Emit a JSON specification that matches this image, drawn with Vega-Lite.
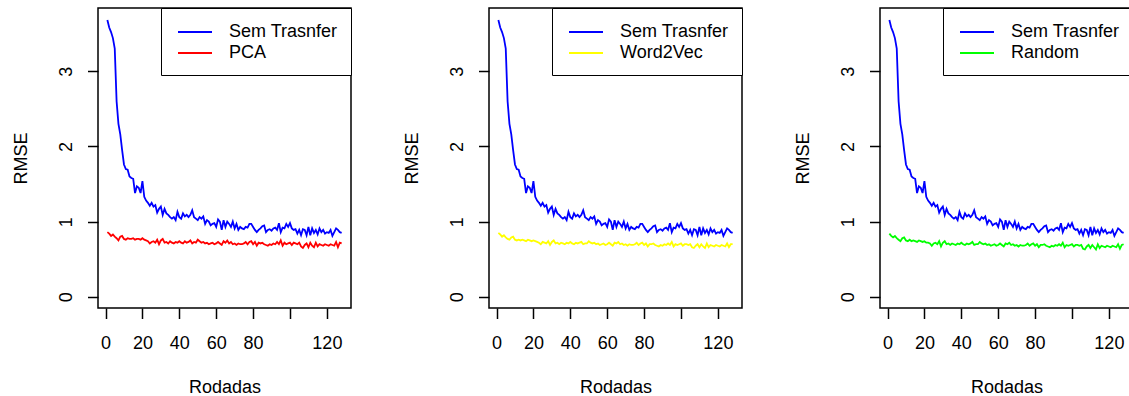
{
  "$schema": "https://vega.github.io/schema/vega-lite/v6.json",
  "autosize": {"type": "none"},
  "padding": {"left": 98, "top": 8, "right": 1031, "bottom": 388},
  "background": "white",
  "bounds": "flush",
  "spacing": 138,
  "config": {
    "font": "Liberation Sans",
    "view": {"stroke": "black", "strokeWidth": 1.5, "fill": "white"},
    "axis": {"domain": false, "grid": false, "tickColor": "black", "tickWidth": 1.5, "tickSize": 10.5, "labelColor": "black", "labelFontSize": 18, "labelFont": "Liberation Sans", "titleFont": "Liberation Sans", "titleFontSize": 18, "titleFontWeight": "normal", "titleColor": "black", "labelFlush": false, "labelOverlap": false},
    "axisX": {"labelBaseline": "alphabetic", "labelPadding": 29.5, "titleX": 126.5, "titleY": 84, "titleBaseline": "alphabetic", "titleAlign": "center", "titleAnchor": null},
    "axisY": {"labelAngle": 270, "labelAlign": "center", "labelBaseline": "alphabetic", "labelPadding": 16.5, "titleAngle": 270, "titleX": -71.5, "titleY": 150, "titleAlign": "center", "titleBaseline": "alphabetic"},
    "legend": {"orient": "top-right", "offset": 0, "padding": 13, "strokeColor": "black", "fillColor": "white", "symbolType": "M-1.7,0H1.7", "symbolSize": 400, "symbolStrokeWidth": 1.8, "symbolOffset": 10, "labelFontSize": 18, "labelFont": "Liberation Sans", "labelColor": "black", "labelOffset": 23, "rowPadding": 1}
  },
  "datasets": {
    "d": [
      {"r":1,"Sem Trasnfer":3.68,"PCA":0.86,"Word2Vec":0.85,"Random":0.84},
      {"r":2,"Sem Trasnfer":3.58,"PCA":0.84,"Word2Vec":0.83,"Random":0.81},
      {"r":3,"Sem Trasnfer":3.52,"PCA":0.81,"Word2Vec":0.80,"Random":0.79},
      {"r":4,"Sem Trasnfer":3.44,"PCA":0.83,"Word2Vec":0.82,"Random":0.81},
      {"r":5,"Sem Trasnfer":3.30,"PCA":0.80,"Word2Vec":0.79,"Random":0.78},
      {"r":6,"Sem Trasnfer":2.60,"PCA":0.78,"Word2Vec":0.77,"Random":0.76},
      {"r":7,"Sem Trasnfer":2.30,"PCA":0.75,"Word2Vec":0.76,"Random":0.74},
      {"r":8,"Sem Trasnfer":2.16,"PCA":0.80,"Word2Vec":0.79,"Random":0.78},
      {"r":9,"Sem Trasnfer":1.95,"PCA":0.81,"Word2Vec":0.80,"Random":0.79},
      {"r":10,"Sem Trasnfer":1.76,"PCA":0.77,"Word2Vec":0.76,"Random":0.75},
      {"r":11,"Sem Trasnfer":1.70,"PCA":0.76,"Word2Vec":0.75,"Random":0.74},
      {"r":12,"Sem Trasnfer":1.69,"PCA":0.78,"Word2Vec":0.76,"Random":0.76},
      {"r":13,"Sem Trasnfer":1.60,"PCA":0.77,"Word2Vec":0.75,"Random":0.74},
      {"r":14,"Sem Trasnfer":1.58,"PCA":0.77,"Word2Vec":0.76,"Random":0.75},
      {"r":15,"Sem Trasnfer":1.57,"PCA":0.78,"Word2Vec":0.75,"Random":0.74},
      {"r":16,"Sem Trasnfer":1.38,"PCA":0.76,"Word2Vec":0.74,"Random":0.73},
      {"r":17,"Sem Trasnfer":1.47,"PCA":0.77,"Word2Vec":0.76,"Random":0.75},
      {"r":18,"Sem Trasnfer":1.45,"PCA":0.77,"Word2Vec":0.75,"Random":0.74},
      {"r":19,"Sem Trasnfer":1.38,"PCA":0.76,"Word2Vec":0.74,"Random":0.73},
      {"r":20,"Sem Trasnfer":1.54,"PCA":0.78,"Word2Vec":0.75,"Random":0.74},
      {"r":21,"Sem Trasnfer":1.33,"PCA":0.76,"Word2Vec":0.74,"Random":0.72},
      {"r":22,"Sem Trasnfer":1.28,"PCA":0.75,"Word2Vec":0.73,"Random":0.72},
      {"r":23,"Sem Trasnfer":1.25,"PCA":0.74,"Word2Vec":0.72,"Random":0.71},
      {"r":24,"Sem Trasnfer":1.21,"PCA":0.71,"Word2Vec":0.70,"Random":0.68},
      {"r":25,"Sem Trasnfer":1.25,"PCA":0.73,"Word2Vec":0.73,"Random":0.71},
      {"r":26,"Sem Trasnfer":1.20,"PCA":0.74,"Word2Vec":0.72,"Random":0.72},
      {"r":27,"Sem Trasnfer":1.22,"PCA":0.72,"Word2Vec":0.71,"Random":0.70},
      {"r":28,"Sem Trasnfer":1.12,"PCA":0.76,"Word2Vec":0.74,"Random":0.74},
      {"r":29,"Sem Trasnfer":1.17,"PCA":0.70,"Word2Vec":0.69,"Random":0.67},
      {"r":30,"Sem Trasnfer":1.20,"PCA":0.75,"Word2Vec":0.73,"Random":0.72},
      {"r":31,"Sem Trasnfer":1.09,"PCA":0.77,"Word2Vec":0.75,"Random":0.74},
      {"r":32,"Sem Trasnfer":1.17,"PCA":0.72,"Word2Vec":0.71,"Random":0.70},
      {"r":33,"Sem Trasnfer":1.11,"PCA":0.73,"Word2Vec":0.72,"Random":0.71},
      {"r":34,"Sem Trasnfer":1.09,"PCA":0.71,"Word2Vec":0.70,"Random":0.69},
      {"r":35,"Sem Trasnfer":1.06,"PCA":0.74,"Word2Vec":0.72,"Random":0.71},
      {"r":36,"Sem Trasnfer":1.04,"PCA":0.72,"Word2Vec":0.71,"Random":0.70},
      {"r":37,"Sem Trasnfer":1.06,"PCA":0.71,"Word2Vec":0.70,"Random":0.69},
      {"r":38,"Sem Trasnfer":1.02,"PCA":0.73,"Word2Vec":0.72,"Random":0.71},
      {"r":39,"Sem Trasnfer":1.13,"PCA":0.72,"Word2Vec":0.71,"Random":0.70},
      {"r":40,"Sem Trasnfer":1.06,"PCA":0.74,"Word2Vec":0.73,"Random":0.72},
      {"r":41,"Sem Trasnfer":1.04,"PCA":0.72,"Word2Vec":0.71,"Random":0.70},
      {"r":42,"Sem Trasnfer":1.11,"PCA":0.71,"Word2Vec":0.70,"Random":0.69},
      {"r":43,"Sem Trasnfer":1.07,"PCA":0.74,"Word2Vec":0.72,"Random":0.71},
      {"r":44,"Sem Trasnfer":1.09,"PCA":0.72,"Word2Vec":0.71,"Random":0.70},
      {"r":45,"Sem Trasnfer":1.06,"PCA":0.73,"Word2Vec":0.72,"Random":0.71},
      {"r":46,"Sem Trasnfer":1.09,"PCA":0.75,"Word2Vec":0.73,"Random":0.73},
      {"r":47,"Sem Trasnfer":1.15,"PCA":0.71,"Word2Vec":0.70,"Random":0.69},
      {"r":48,"Sem Trasnfer":1.06,"PCA":0.73,"Word2Vec":0.71,"Random":0.70},
      {"r":49,"Sem Trasnfer":1.04,"PCA":0.72,"Word2Vec":0.71,"Random":0.70},
      {"r":50,"Sem Trasnfer":1.02,"PCA":0.76,"Word2Vec":0.74,"Random":0.73},
      {"r":51,"Sem Trasnfer":1.06,"PCA":0.74,"Word2Vec":0.72,"Random":0.71},
      {"r":52,"Sem Trasnfer":1.04,"PCA":0.72,"Word2Vec":0.71,"Random":0.70},
      {"r":53,"Sem Trasnfer":1.07,"PCA":0.73,"Word2Vec":0.72,"Random":0.71},
      {"r":54,"Sem Trasnfer":0.97,"PCA":0.71,"Word2Vec":0.70,"Random":0.69},
      {"r":55,"Sem Trasnfer":1.02,"PCA":0.72,"Word2Vec":0.71,"Random":0.70},
      {"r":56,"Sem Trasnfer":1.00,"PCA":0.70,"Word2Vec":0.69,"Random":0.68},
      {"r":57,"Sem Trasnfer":0.95,"PCA":0.71,"Word2Vec":0.70,"Random":0.69},
      {"r":58,"Sem Trasnfer":0.97,"PCA":0.72,"Word2Vec":0.71,"Random":0.70},
      {"r":59,"Sem Trasnfer":0.98,"PCA":0.70,"Word2Vec":0.69,"Random":0.68},
      {"r":60,"Sem Trasnfer":0.93,"PCA":0.71,"Word2Vec":0.70,"Random":0.69},
      {"r":61,"Sem Trasnfer":1.03,"PCA":0.73,"Word2Vec":0.72,"Random":0.71},
      {"r":62,"Sem Trasnfer":1.00,"PCA":0.71,"Word2Vec":0.70,"Random":0.69},
      {"r":63,"Sem Trasnfer":0.89,"PCA":0.69,"Word2Vec":0.68,"Random":0.67},
      {"r":64,"Sem Trasnfer":1.02,"PCA":0.74,"Word2Vec":0.72,"Random":0.71},
      {"r":65,"Sem Trasnfer":0.93,"PCA":0.72,"Word2Vec":0.71,"Random":0.70},
      {"r":66,"Sem Trasnfer":1.00,"PCA":0.75,"Word2Vec":0.73,"Random":0.72},
      {"r":67,"Sem Trasnfer":0.97,"PCA":0.71,"Word2Vec":0.70,"Random":0.69},
      {"r":68,"Sem Trasnfer":0.93,"PCA":0.73,"Word2Vec":0.71,"Random":0.70},
      {"r":69,"Sem Trasnfer":1.00,"PCA":0.70,"Word2Vec":0.69,"Random":0.68},
      {"r":70,"Sem Trasnfer":0.91,"PCA":0.71,"Word2Vec":0.70,"Random":0.69},
      {"r":71,"Sem Trasnfer":0.97,"PCA":0.69,"Word2Vec":0.68,"Random":0.67},
      {"r":72,"Sem Trasnfer":0.89,"PCA":0.71,"Word2Vec":0.70,"Random":0.69},
      {"r":73,"Sem Trasnfer":0.93,"PCA":0.70,"Word2Vec":0.69,"Random":0.68},
      {"r":74,"Sem Trasnfer":0.91,"PCA":0.70,"Word2Vec":0.69,"Random":0.68},
      {"r":75,"Sem Trasnfer":0.90,"PCA":0.71,"Word2Vec":0.70,"Random":0.69},
      {"r":76,"Sem Trasnfer":0.93,"PCA":0.73,"Word2Vec":0.72,"Random":0.71},
      {"r":77,"Sem Trasnfer":0.92,"PCA":0.70,"Word2Vec":0.69,"Random":0.68},
      {"r":78,"Sem Trasnfer":0.97,"PCA":0.73,"Word2Vec":0.71,"Random":0.70},
      {"r":79,"Sem Trasnfer":0.97,"PCA":0.74,"Word2Vec":0.72,"Random":0.71},
      {"r":80,"Sem Trasnfer":0.93,"PCA":0.70,"Word2Vec":0.69,"Random":0.68},
      {"r":81,"Sem Trasnfer":0.89,"PCA":0.73,"Word2Vec":0.71,"Random":0.70},
      {"r":82,"Sem Trasnfer":0.86,"PCA":0.68,"Word2Vec":0.67,"Random":0.66},
      {"r":83,"Sem Trasnfer":0.89,"PCA":0.72,"Word2Vec":0.70,"Random":0.69},
      {"r":84,"Sem Trasnfer":0.91,"PCA":0.71,"Word2Vec":0.70,"Random":0.69},
      {"r":85,"Sem Trasnfer":0.94,"PCA":0.72,"Word2Vec":0.71,"Random":0.70},
      {"r":86,"Sem Trasnfer":0.95,"PCA":0.70,"Word2Vec":0.69,"Random":0.68},
      {"r":87,"Sem Trasnfer":0.86,"PCA":0.69,"Word2Vec":0.68,"Random":0.67},
      {"r":88,"Sem Trasnfer":0.89,"PCA":0.68,"Word2Vec":0.67,"Random":0.66},
      {"r":89,"Sem Trasnfer":0.90,"PCA":0.70,"Word2Vec":0.69,"Random":0.68},
      {"r":90,"Sem Trasnfer":0.88,"PCA":0.69,"Word2Vec":0.68,"Random":0.67},
      {"r":91,"Sem Trasnfer":0.91,"PCA":0.71,"Word2Vec":0.70,"Random":0.69},
      {"r":92,"Sem Trasnfer":0.92,"PCA":0.70,"Word2Vec":0.69,"Random":0.68},
      {"r":93,"Sem Trasnfer":0.89,"PCA":0.73,"Word2Vec":0.71,"Random":0.70},
      {"r":94,"Sem Trasnfer":0.98,"PCA":0.70,"Word2Vec":0.69,"Random":0.68},
      {"r":95,"Sem Trasnfer":0.86,"PCA":0.75,"Word2Vec":0.73,"Random":0.72},
      {"r":96,"Sem Trasnfer":0.92,"PCA":0.68,"Word2Vec":0.67,"Random":0.66},
      {"r":97,"Sem Trasnfer":0.91,"PCA":0.72,"Word2Vec":0.70,"Random":0.69},
      {"r":98,"Sem Trasnfer":0.97,"PCA":0.70,"Word2Vec":0.69,"Random":0.68},
      {"r":99,"Sem Trasnfer":0.93,"PCA":0.71,"Word2Vec":0.70,"Random":0.69},
      {"r":100,"Sem Trasnfer":0.98,"PCA":0.72,"Word2Vec":0.71,"Random":0.70},
      {"r":101,"Sem Trasnfer":0.91,"PCA":0.69,"Word2Vec":0.68,"Random":0.67},
      {"r":102,"Sem Trasnfer":0.89,"PCA":0.72,"Word2Vec":0.70,"Random":0.69},
      {"r":103,"Sem Trasnfer":0.90,"PCA":0.71,"Word2Vec":0.70,"Random":0.69},
      {"r":104,"Sem Trasnfer":0.84,"PCA":0.70,"Word2Vec":0.69,"Random":0.68},
      {"r":105,"Sem Trasnfer":0.89,"PCA":0.72,"Word2Vec":0.70,"Random":0.69},
      {"r":106,"Sem Trasnfer":0.82,"PCA":0.67,"Word2Vec":0.66,"Random":0.64},
      {"r":107,"Sem Trasnfer":0.90,"PCA":0.65,"Word2Vec":0.65,"Random":0.63},
      {"r":108,"Sem Trasnfer":0.89,"PCA":0.69,"Word2Vec":0.68,"Random":0.67},
      {"r":109,"Sem Trasnfer":0.82,"PCA":0.71,"Word2Vec":0.70,"Random":0.69},
      {"r":110,"Sem Trasnfer":0.93,"PCA":0.66,"Word2Vec":0.66,"Random":0.65},
      {"r":111,"Sem Trasnfer":0.82,"PCA":0.72,"Word2Vec":0.70,"Random":0.69},
      {"r":112,"Sem Trasnfer":0.91,"PCA":0.68,"Word2Vec":0.67,"Random":0.66},
      {"r":113,"Sem Trasnfer":0.85,"PCA":0.66,"Word2Vec":0.65,"Random":0.63},
      {"r":114,"Sem Trasnfer":0.89,"PCA":0.72,"Word2Vec":0.71,"Random":0.70},
      {"r":115,"Sem Trasnfer":0.83,"PCA":0.67,"Word2Vec":0.66,"Random":0.65},
      {"r":116,"Sem Trasnfer":0.91,"PCA":0.70,"Word2Vec":0.69,"Random":0.68},
      {"r":117,"Sem Trasnfer":0.86,"PCA":0.69,"Word2Vec":0.68,"Random":0.67},
      {"r":118,"Sem Trasnfer":0.89,"PCA":0.68,"Word2Vec":0.67,"Random":0.66},
      {"r":119,"Sem Trasnfer":0.84,"PCA":0.70,"Word2Vec":0.69,"Random":0.68},
      {"r":120,"Sem Trasnfer":0.86,"PCA":0.69,"Word2Vec":0.68,"Random":0.67},
      {"r":121,"Sem Trasnfer":0.85,"PCA":0.68,"Word2Vec":0.67,"Random":0.66},
      {"r":122,"Sem Trasnfer":0.89,"PCA":0.70,"Word2Vec":0.69,"Random":0.68},
      {"r":123,"Sem Trasnfer":0.81,"PCA":0.69,"Word2Vec":0.68,"Random":0.67},
      {"r":124,"Sem Trasnfer":0.86,"PCA":0.68,"Word2Vec":0.67,"Random":0.66},
      {"r":125,"Sem Trasnfer":0.91,"PCA":0.73,"Word2Vec":0.71,"Random":0.70},
      {"r":126,"Sem Trasnfer":0.89,"PCA":0.66,"Word2Vec":0.66,"Random":0.64},
      {"r":127,"Sem Trasnfer":0.86,"PCA":0.72,"Word2Vec":0.70,"Random":0.69},
      {"r":128,"Sem Trasnfer":0.85,"PCA":0.71,"Word2Vec":0.70,"Random":0.70}
    ]
  },
  "resolve": {"scale": {"color": "independent"}, "legend": {"color": "independent"}},
  "hconcat": [
    {
      "width": 253, "height": 300,
      "data": {"name": "d"},
      "transform": [{"fold": ["Sem Trasnfer", "PCA"], "as": ["serie", "rmse"]}],
      "mark": {"type": "line", "strokeWidth": 1.8},
      "encoding": {
        "x": {"field": "r", "type": "quantitative", "scale": {"domain": [-4.08, 133.08], "nice": false, "zero": false}, "axis": {"title": "Rodadas", "values": [0, 20, 40, 60, 80, 100, 120], "labelExpr": "datum.value == 100 ? '' : datum.label"}},
        "y": {"field": "rmse", "type": "quantitative", "scale": {"domain": [-0.148, 3.84], "nice": false, "zero": false}, "axis": {"title": "RMSE", "values": [0, 1, 2, 3]}},
        "color": {"field": "serie", "type": "nominal", "scale": {"domain": ["Sem Trasnfer", "PCA"], "range": ["#0000ff", "#ff0000"]}, "legend": {"title": null}}
      }
    },
    {
      "width": 253, "height": 300,
      "data": {"name": "d"},
      "transform": [{"fold": ["Sem Trasnfer", "Word2Vec"], "as": ["serie", "rmse"]}],
      "mark": {"type": "line", "strokeWidth": 1.8},
      "encoding": {
        "x": {"field": "r", "type": "quantitative", "scale": {"domain": [-4.08, 133.08], "nice": false, "zero": false}, "axis": {"title": "Rodadas", "values": [0, 20, 40, 60, 80, 100, 120], "labelExpr": "datum.value == 100 ? '' : datum.label"}},
        "y": {"field": "rmse", "type": "quantitative", "scale": {"domain": [-0.148, 3.84], "nice": false, "zero": false}, "axis": {"title": "RMSE", "values": [0, 1, 2, 3]}},
        "color": {"field": "serie", "type": "nominal", "scale": {"domain": ["Sem Trasnfer", "Word2Vec"], "range": ["#0000ff", "#ffff00"]}, "legend": {"title": null}}
      }
    },
    {
      "width": 253, "height": 300,
      "data": {"name": "d"},
      "transform": [{"fold": ["Sem Trasnfer", "Random"], "as": ["serie", "rmse"]}],
      "mark": {"type": "line", "strokeWidth": 1.8},
      "encoding": {
        "x": {"field": "r", "type": "quantitative", "scale": {"domain": [-4.08, 133.08], "nice": false, "zero": false}, "axis": {"title": "Rodadas", "values": [0, 20, 40, 60, 80, 100, 120], "labelExpr": "datum.value == 100 ? '' : datum.label"}},
        "y": {"field": "rmse", "type": "quantitative", "scale": {"domain": [-0.148, 3.84], "nice": false, "zero": false}, "axis": {"title": "RMSE", "values": [0, 1, 2, 3]}},
        "color": {"field": "serie", "type": "nominal", "scale": {"domain": ["Sem Trasnfer", "Random"], "range": ["#0000ff", "#00ff00"]}, "legend": {"title": null}}
      }
    }
  ]
}
